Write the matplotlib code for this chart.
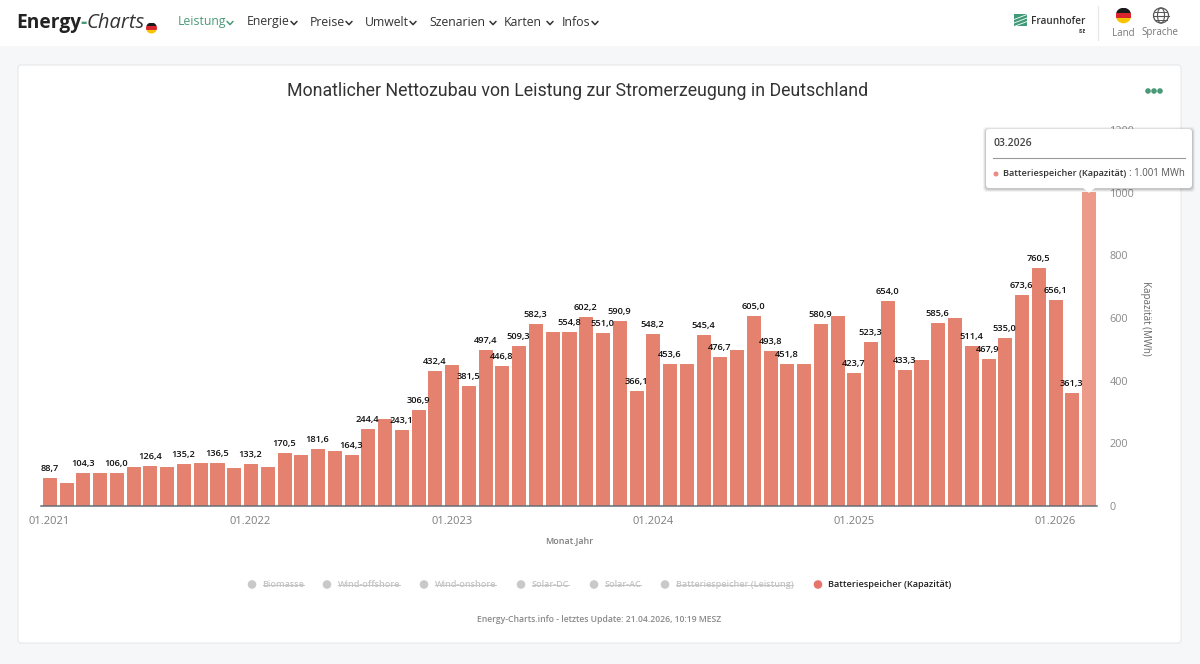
import matplotlib
matplotlib.use("Agg")
import matplotlib.pyplot as plt
from matplotlib.patches import Circle, Ellipse, FancyBboxPatch, Polygon, Rectangle

plt.rcParams["font.family"] = ["Open Sans", "DejaVu Sans"]

# estimated where the picture has no label
MONTHLY_MWH = [
    88.7, 73, 104.3, 104, 106.0, 126, 126.4, 123, 135.2, 136.5, 136.5, 120,
    133.2, 125, 170.5, 163, 181.6, 176, 164.3, 244.4, 278, 243.1, 306.9, 432.4,
    451, 381.5, 497.4, 446.8, 509.3, 582.3, 556, 554.8, 602.2, 551.0, 590.9, 366.1,
    548.2, 453.6, 453.6, 545.4, 476.7, 497, 605.0, 493.8, 451.8, 453, 580.9, 607,
    423.7, 523.3, 654.0, 433.3, 466, 585.6, 599, 511.4, 467.9, 535.0, 673.6, 760.5,
    656.1, 361.3, 1001,
]
UNLABELLED = [1, 3, 5, 7, 9, 11, 13, 15, 17, 20, 24, 30, 38, 41, 45, 47, 52, 54, 62]
YEAR_TICKS = [0, 12, 24, 36, 48, 60]
YEAR_LABELS = ["01.2021", "01.2022", "01.2023", "01.2024", "01.2025", "01.2026"]
Y_TICKS = [0, 200, 400, 600, 800, 1000, 1200]
NAV_ITEMS = ["Leistung", "Energie", "Preise", "Umwelt", "Szenarien", "Karten", "Infos"]
LEGEND_OFF = ["Biomasse", "Wind-offshore", "Wind-onshore", "Solar-DC", "Solar-AC",
              "Batteriespeicher (Leistung)"]
LEGEND_ON = "Batteriespeicher (Kapazität)"

W, H = 1200, 664
BAR = "#e5826f"
BAR_HOVER = "#ec9a8a"
GREEN = "#4a9a78"
DARK = "#333333"
GREY = "#7d7d7d"

fig = plt.figure(figsize=(W / 100, H / 100), dpi=100, facecolor="#f6f7f9")


def pixel_axes(zorder):
    ax = fig.add_axes([0, 0, 1, 1], zorder=zorder)
    ax.set_xlim(0, W)
    ax.set_ylim(H, 0)
    ax.axis("off")
    return ax


def flag(ax, cx, cy, r):
    clip = Circle((cx, cy), r, transform=ax.transData)
    for i, col in enumerate(["#1a1a1a", "#d8262c", "#f7c600"]):
        stripe = Rectangle((cx - r, cy - r + i * 2 * r / 3), 2 * r, 2 * r / 3 + 0.3, fc=col, lw=0)
        ax.add_patch(stripe)
        stripe.set_clip_path(clip)


def chevron(ax, x, y, color):
    ax.plot([x - 3, x, x + 3], [y - 1.6, y + 1.6, y - 1.6], color=color, lw=1.1, solid_capstyle="round")


# page and card
bg = pixel_axes(0)
bg.add_patch(Rectangle((0, 0), W, 46, fc="white", lw=0))
bg.add_patch(FancyBboxPatch((18, 65), 1163, 578, boxstyle="round,pad=0,rounding_size=3",
                            fc="white", ec="#e6e8ea", lw=0.8))

# chart
ax = fig.add_axes([41 / W, 1 - 506 / H, 1056 / W, 376 / H], zorder=2)
ax.patch.set_alpha(0)
months = range(len(MONTHLY_MWH))
bars = ax.bar(months, MONTHLY_MWH, width=0.78, color=BAR, edgecolor=BAR, linewidth=0.7, joinstyle="round")
bars[-1].set_facecolor(BAR_HOVER)
bars[-1].set_edgecolor(BAR_HOVER)
labels = ["" if i in UNLABELLED else f"{v:.1f}".replace(".", ",") for i, v in enumerate(MONTHLY_MWH)]
ax.bar_label(bars, labels=labels, padding=3.6, fontsize=6.7, fontweight="semibold", color="#111111")
ax.set_xlim(-0.5, len(MONTHLY_MWH) - 0.5)
ax.set_ylim(0, 1200)
ax.set_xticks(YEAR_TICKS, YEAR_LABELS)
ax.set_yticks(Y_TICKS)
ax.yaxis.tick_right()
ax.tick_params(axis="x", length=0, pad=7, labelsize=8, labelcolor=GREY)
ax.tick_params(axis="y", length=0, pad=9, labelsize=7.8, labelcolor="#8a8a8a")
for side in ["top", "left", "right"]:
    ax.spines[side].set_visible(False)
ax.spines["bottom"].set_color("#666e75")
ax.spines["bottom"].set_linewidth(1.1)

fg = pixel_axes(5)
fg.text(578, 90.5, "Monatlicher Nettozubau von Leistung zur Stromerzeugung in Deutschland",
        ha="center", va="center", fontsize=12.8, color=DARK, family=["Roboto", "DejaVu Sans"])
fg.text(569, 541, "Monat.Jahr", ha="center", va="center", fontsize=6.4, fontweight="semibold", color=GREY)
fg.text(1146, 318, "Kapazität (MWh)", ha="center", va="center", rotation=270, fontsize=7, color="#666666")
fg.text(599, 620, "Energy-Charts.info - letztes Update: 21.04.2026, 10:19 MESZ", ha="center", va="center",
        fontsize=6.25, fontweight="semibold", color="#8a8a8a")
for x in [1148, 1154, 1160]:
    fg.add_patch(Circle((x, 91), 2.8, fc=GREEN, lw=0))

# legend, hidden series are struck through
renderer = fig.canvas.get_renderer()
off_markers = [252, 327, 424, 521, 594, 665]
for name, mx in zip(LEGEND_OFF, off_markers):
    fg.add_patch(Circle((mx, 584.5), 4.3, fc="#c9c9c9", lw=0))
    t = fg.text(mx + 10.5, 584.5, name, ha="left", va="center", fontsize=6.5, fontweight="semibold", color="#c4c4c4")
    fg.plot([mx + 10.5, mx + 10.5 + t.get_window_extent(renderer).width], [584.5, 584.5], color="#c4c4c4", lw=0.7)
fg.add_patch(Circle((818, 584.5), 4.3, fc="#e5746a", lw=0))
fg.text(828.5, 584.5, LEGEND_ON, ha="left", va="center", fontsize=6.55, fontweight="semibold", color="#222222")

# tooltip, soft shadow first
for grow, alpha in [(3, 0.05), (2, 0.07), (1, 0.1)]:
    fg.add_patch(FancyBboxPatch((986 - grow, 130 - grow), 206 + 2 * grow, 59 + 2 * grow,
                                boxstyle="round,pad=0,rounding_size=4", fc="#000000", alpha=alpha, lw=0))
fg.add_patch(FancyBboxPatch((986, 129), 206, 59, boxstyle="round,pad=0,rounding_size=3", fc="white", lw=0))
fg.add_patch(Polygon([[1083, 188], [1095, 188], [1089, 193]], fc="white", lw=0))
fg.text(993, 143, "03.2026", ha="left", va="center", fontsize=7.5, fontweight="semibold", color="#444444")
fg.plot([993, 1185], [158, 158], color="#9a9a9a", lw=0.8)
fg.add_patch(Circle((996, 174), 2.5, fc="#ec8a84", lw=0))
fg.text(1003, 174, "Batteriespeicher (Kapazität)", ha="left", va="center", fontsize=6.6,
        fontweight="semibold", color="#333333")
fg.text(1185, 174, ": 1.001 MWh", ha="right", va="center", fontsize=6.9, color="#555555")

# header
fg.text(16, 23, "Energy", ha="left", va="center", fontsize=13.8, fontweight="bold", color="#222222")
fg.text(80.5, 23, "-", ha="left", va="center", fontsize=13.8, fontweight="bold", color=GREEN)
fg.text(87, 23, "Charts", ha="left", va="center", fontsize=14.5, style="italic", color="#333333")
flag(fg, 151.5, 28, 5.5)

nav_x = [178, 247, 310, 365, 429, 504, 562]
chev_x = [230, 294, 349, 413, 493, 550, 595]
for i, (name, x, cx) in enumerate(zip(NAV_ITEMS, nav_x, chev_x)):
    col = GREEN if i == 0 else "#333333"
    fg.text(x, 22, name, ha="left", va="center", fontsize=8.8, color=col)
    chevron(fg, cx, 23, col)

fg.add_patch(Rectangle((1014, 14), 13, 12, fc="#3f9a78", lw=0))
for dy in [3, 6.5, 10]:
    fg.plot([1014, 1027], [14 + dy + 2.5, 14 + dy - 2.5], color="white", lw=0.6)
fg.text(1031, 21, "Fraunhofer", ha="left", va="center", fontsize=7.2, fontweight="semibold", color="#333333")
fg.text(1086, 31.5, "ISE", ha="right", va="center", fontsize=3.6, fontweight="bold", color="#444444")
fg.plot([1098, 1098], [6, 40], color="#e4e6e8", lw=0.8)
flag(fg, 1123.5, 15.5, 7.8)
fg.text(1123, 33, "Land", ha="center", va="center", fontsize=7, color="#777777")
fg.add_patch(Circle((1161, 15.5), 7.5, fc="none", ec="#555555", lw=0.9))
fg.add_patch(Ellipse((1161, 15.5), 7, 15, fc="none", ec="#555555", lw=0.8))
fg.plot([1153.5, 1168.5], [15.5, 15.5], color="#555555", lw=0.8)
fg.plot([1155, 1167], [11.5, 11.5], color="#555555", lw=0.7)
fg.plot([1155, 1167], [19.5, 19.5], color="#555555", lw=0.7)
fg.text(1160, 33, "Sprache", ha="center", va="center", fontsize=7, color="#777777")

fig.savefig("out.png", dpi=100, facecolor=fig.get_facecolor())
